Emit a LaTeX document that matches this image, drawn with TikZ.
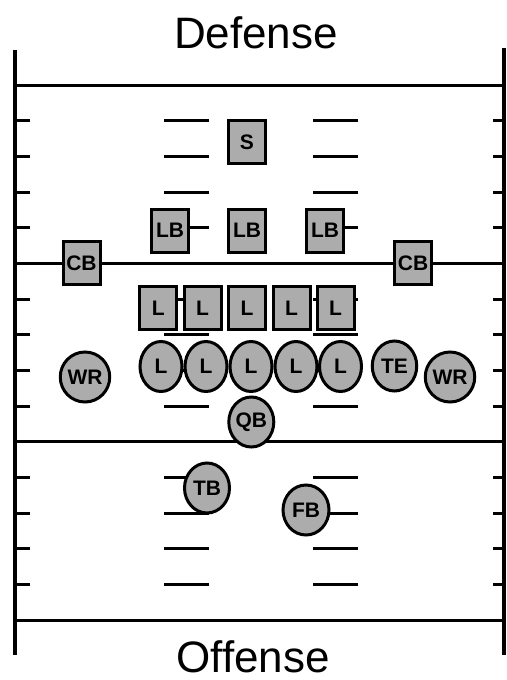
\documentclass[tikz,border=0pt]{standalone}
\usepackage{fontspec}
\setmainfont{Liberation Sans}
\usetikzlibrary{shapes.geometric}

\definecolor{playergray}{RGB}{172,172,172}

\begin{document}
\begin{tikzpicture}[x=1pt, y=-1pt,
    yardline/.style={line width=3pt},
    sideline/.style={line width=4.5pt},
    defbox/.style={draw, line width=3pt, fill=playergray, minimum width=37pt, minimum height=43pt, inner sep=0pt, font=\fontsize{21}{25}\selectfont\bfseries},
    offcircle/.style={draw, ellipse, line width=3pt, fill=playergray, minimum width=42pt, minimum height=50pt, inner sep=0pt, font=\fontsize{21}{25}\selectfont\bfseries},
    title/.style={anchor=base, font=\fontsize{44}{52}\selectfont}
]
    \useasboundingbox (0,0) rectangle (506,680);

    % Seitenlinien und volle Linien
    \draw[sideline] (15,50) -- (15,655);
    \draw[sideline] (504,48) -- (504,655);
    \foreach \k in {0,5,10,15} {
        \pgfmathsetmacro\yy{85+35.67*\k}
        \draw[yardline] (15,\yy) -- (506,\yy);
    }
    % Markierungen am Rand und Hash-Marks
    \foreach \k in {1,2,3,4,6,7,8,9,11,12,13,14} {
        \pgfmathsetmacro\yy{85+35.67*\k}
        \draw[yardline] (15,\yy) -- (30,\yy);
        \draw[yardline] (493,\yy) -- (504,\yy);
        \draw[yardline] (164,\yy) -- (209,\yy);
        \draw[yardline] (313,\yy) -- (358,\yy);
    }

    \node[title] (defense) at (256,48) {Defense};
    \node[title] (offense) at (253,672) {Offense};

    % Defense
    \node[defbox] (safety) at (247,142) {S};
    \node[defbox] (lbleft) at (170,230.5) {LB};
    \node[defbox] (lbmid) at (247,230.5) {LB};
    \node[defbox] (lbright) at (325,230.5) {LB};
    \node[defbox] (cbleft) at (81.5,263) {CB};
    \node[defbox] (cbright) at (413,263) {CB};
    \node[defbox] (dline1) at (158.3,308) {L};
    \node[defbox] (dline2) at (202.5,308) {L};
    \node[defbox] (dline3) at (247,308) {L};
    \node[defbox] (dline4) at (291.5,308) {L};
    \node[defbox] (dline5) at (335.5,308) {L};

    % Offense
    \node[offcircle] (oline1) at (161,366.5) {L};
    \node[offcircle] (oline2) at (206,366.5) {L};
    \node[offcircle] (oline3) at (251,366.5) {L};
    \node[offcircle] (oline4) at (296,366.5) {L};
    \node[offcircle] (oline5) at (340.5,366.5) {L};
    \node[offcircle, minimum width=44.5pt] (tightend) at (394.5,366) {TE};
    \node[offcircle, minimum width=45.5pt] (wrleft) at (85,377) {WR};
    \node[offcircle, minimum width=45.5pt] (wrright) at (450,377) {WR};
    \node[offcircle, minimum width=45pt] (qb) at (251.3,422) {QB};
    \node[offcircle, minimum width=45pt] (tb) at (207,488) {TB};
    \node[offcircle, minimum width=46pt] (fb) at (306,510) {FB};
\end{tikzpicture}
\end{document}
